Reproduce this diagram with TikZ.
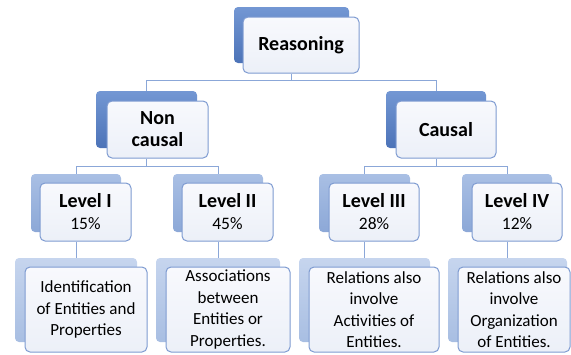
\documentclass[tikz,border=0pt]{standalone}
\usepackage{fontspec}
\setmainfont{Carlito}
\definecolor{dkTop}{HTML}{7397D3}
\definecolor{dkBot}{HTML}{4C73B8}
\definecolor{mdTop}{HTML}{A9BFE4}
\definecolor{mdBot}{HTML}{8CA8D7}
\definecolor{ltTop}{HTML}{C6D5EE}
\definecolor{ltBot}{HTML}{A8BEE2}
\definecolor{frameC}{HTML}{7E9BD1}
\definecolor{lineC}{HTML}{8BA7D8}
\definecolor{fillTop}{HTML}{F8F9FD}
\definecolor{fillBot}{HTML}{ECF0F8}
\begin{document}
\begin{tikzpicture}[x=1pt,y=-1pt,
  backbox/.style={rectangle, rounded corners=4pt, inner sep=0pt, draw=none},
  backdark/.style={backbox, top color=dkTop, bottom color=dkBot},
  backmid/.style={backbox, top color=mdTop, bottom color=mdBot},
  backlight/.style={backbox, top color=ltTop, bottom color=ltBot},
  frontbox/.style={rectangle, rounded corners=5pt, inner sep=0pt, draw=frameC, line width=1pt,
    top color=fillTop, bottom color=fillBot, align=center, text=black},
  titlefont/.style={font=\fontsize{20}{22}\selectfont\bfseries},
  bodyfont/.style={font=\fontsize{17}{21.5}\selectfont},
  conn/.style={draw=lineC, line width=1pt}]
\useasboundingbox (0,0) rectangle (571,354);
\newcommand{\pct}[1]{{\fontsize{17.5}{20}\selectfont\mdseries #1}}
% level 0
\node[backdark, minimum width=115, minimum height=56] (rb) at (291.5,35) {};
\node[frontbox, titlefont, minimum width=116, minimum height=56] (rf) at (301,45) {Reasoning};
% level 1
\node[backdark, minimum width=101, minimum height=57] (nb) at (146.5,119.5) {};
\node[frontbox, titlefont, minimum width=101, minimum height=57] (nf) at (157.5,129.5) {Non\\causal};
\node[backdark, minimum width=100, minimum height=57] (cb) at (436,119.5) {};
\node[frontbox, titlefont, minimum width=100, minimum height=57] (cf) at (446,129.5) {Causal};
% level 2
\node[backmid, minimum width=90, minimum height=58] (l1b) at (76,203) {};
\node[frontbox, titlefont, minimum width=91, minimum height=58] (l1f) at (85.5,212) {Level I\\\pct{15\%}};
\node[backmid, minimum width=90, minimum height=58] (l2b) at (218,203) {};
\node[frontbox, titlefont, minimum width=91, minimum height=58] (l2f) at (227.5,212) {Level II\\\pct{45\%}};
\node[backmid, minimum width=91, minimum height=58] (l3b) at (364.5,203) {};
\node[frontbox, titlefont, minimum width=90, minimum height=58] (l3f) at (374,212) {Level III\\\pct{28\%}};
\node[backmid, minimum width=90, minimum height=58] (l4b) at (507,203) {};
\node[frontbox, titlefont, minimum width=90, minimum height=58] (l4f) at (517,212) {Level IV\\\pct{12\%}};
% level 3
\node[backlight, minimum width=122, minimum height=84] (d1b) at (76,300) {};
\node[frontbox, bodyfont, minimum width=122, minimum height=85] (d1f) at (86,309.5) {Identification\\of Entities and\\Properties};
\node[backlight, minimum width=124, minimum height=84] (d2b) at (218,300) {};
\node[frontbox, bodyfont, minimum width=124, minimum height=85] (d2f) at (228,309.5) {Associations\\between\\Entities or\\Properties.};
\node[backlight, minimum width=131, minimum height=84] (d3b) at (364.5,300) {};
\node[frontbox, bodyfont, minimum width=130, minimum height=85] (d3f) at (374,309.5) {Relations also\\involve\\Activities of\\Entities.};
\node[backlight, minimum width=119, minimum height=84] (d4b) at (507.5,300) {};
\node[frontbox, bodyfont, minimum width=112, minimum height=85] (d4f) at (514,309.5) {Relations also\\involve\\Organization\\of Entities.};
% connectors
\coordinate (h1) at (0,80);
\coordinate (h2) at (0,166);
\draw[conn] (rb |- rf.south) -- (rb |- h1) -| (nb.north);
\draw[conn] (rb |- h1) -| (cb.north);
\draw[conn] (nb |- nf.south) -- (nb |- h2) -| (l1b.north);
\draw[conn] (nb |- h2) -| (l2b.north);
\draw[conn] (cb |- cf.south) -- (cb |- h2) -| (l3b.north);
\draw[conn] (cb |- h2) -| (l4b.north);
\draw[conn] (l1b |- l1f.south) -- (l1b |- d1b.north);
\draw[conn] (l2b |- l2f.south) -- (l2b |- d2b.north);
\draw[conn] (l3b |- l3f.south) -- (l3b |- d3b.north);
\draw[conn] (l4b |- l4f.south) -- (l4b |- d4b.north);
\end{tikzpicture}
\end{document}
